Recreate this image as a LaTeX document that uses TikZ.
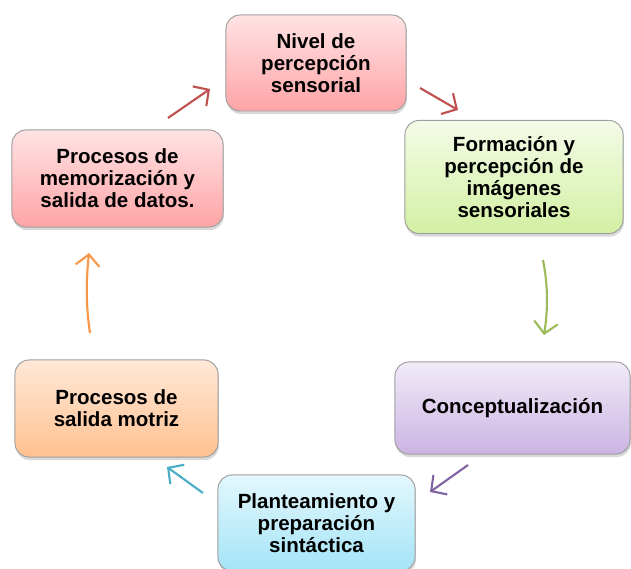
\documentclass[tikz,border=0pt]{standalone}
\usepackage{fontspec}
\setmainfont{Liberation Sans}
\usetikzlibrary{arrows.meta,shadows}
\definecolor{redarr}{HTML}{C0504D}
\definecolor{greenarr}{HTML}{9BBB59}
\definecolor{purplearr}{HTML}{8064A2}
\definecolor{cyanarr}{HTML}{4BACC6}
\definecolor{orangearr}{HTML}{F79646}
\definecolor{redtop}{HTML}{FFE3E4}\definecolor{redbot}{HTML}{FFA4A6}
\definecolor{greentop}{HTML}{F4FBE8}\definecolor{greenbot}{HTML}{D2F0A2}
\definecolor{purpletop}{HTML}{F1EBF8}\definecolor{purplebot}{HTML}{CBB4E3}
\definecolor{cyantop}{HTML}{E3F7FD}\definecolor{cyanbot}{HTML}{A4E4F7}
\definecolor{orangetop}{HTML}{FFE8D8}\definecolor{orangebot}{HTML}{FFC190}
\tikzset{
  box/.style={draw=gray!75,line width=.7pt,rounded corners=.35cm,align=center,
    font=\fontsize{14.6}{15.6}\selectfont\bfseries,inner sep=2pt,
    drop shadow={opacity=.3,shadow xshift=.6pt,shadow yshift=-2.2pt}},
  arr/.style={->,line width=1.5pt}
}
\begin{document}
\begin{tikzpicture}[x=.025cm,y=-.025cm,>={Straight Barb[length=8pt,width=17pt]}]
\useasboundingbox (0,0) rectangle (631,569);
\begin{scope}
\clip (0,0) rectangle (631,569);
\node[box,top color=redtop,bottom color=redbot,minimum width=4.5cm,minimum height=2.4cm] (nivel) at (316,63) {Nivel de\\percepción\\sensorial};
\node[box,top color=greentop,bottom color=greenbot,minimum width=5.45cm,minimum height=2.825cm] (formacion) at (514,177) {Formación y\\percepción de\\imágenes\\sensoriales};
\node[box,top color=purpletop,bottom color=purplebot,minimum width=5.875cm,minimum height=2.3cm] (concepto) at (512.5,408) {Conceptualización};
\node[box,top color=cyantop,bottom color=cyanbot,minimum width=4.925cm,minimum height=2.4cm] (planteo) at (316.5,523) {Planteamiento y\\preparación\\sintáctica};
\node[box,top color=orangetop,bottom color=orangebot,minimum width=5.075cm,minimum height=2.425cm] (motriz) at (116.5,408.5) {Procesos de\\salida motriz};
\node[box,top color=redtop,bottom color=redbot,minimum width=5.275cm,minimum height=2.425cm] (memoria) at (117.5,178.5) {Procesos de\\memorización y\\salida de datos.};
\end{scope}
% flechas del ciclo
\coordinate (a1) at (420,88); \coordinate (b1) at (458,110);
\coordinate (a2) at (543,260); \coordinate (b2) at (544,335);
\coordinate (a3) at (468,465); \coordinate (b3) at (430,492);
\coordinate (a4) at (203,493); \coordinate (b4) at (167,467);
\coordinate (a5) at (90,333); \coordinate (b5) at (89,253);
\coordinate (a6) at (168,118); \coordinate (b6) at (210,89);
\draw[arr,redarr](a1)--(b1);
\draw[arr,greenarr](a2).. controls (548,285) and (548,310) ..(b2);
\draw[arr,purplearr](a3)--(b3);
\draw[arr,cyanarr](a4)--(b4);
\draw[arr,orangearr](a5).. controls (86,308) and (86,280) ..(b5);
\draw[arr,redarr](a6)--(b6);
\end{tikzpicture}
\end{document}
